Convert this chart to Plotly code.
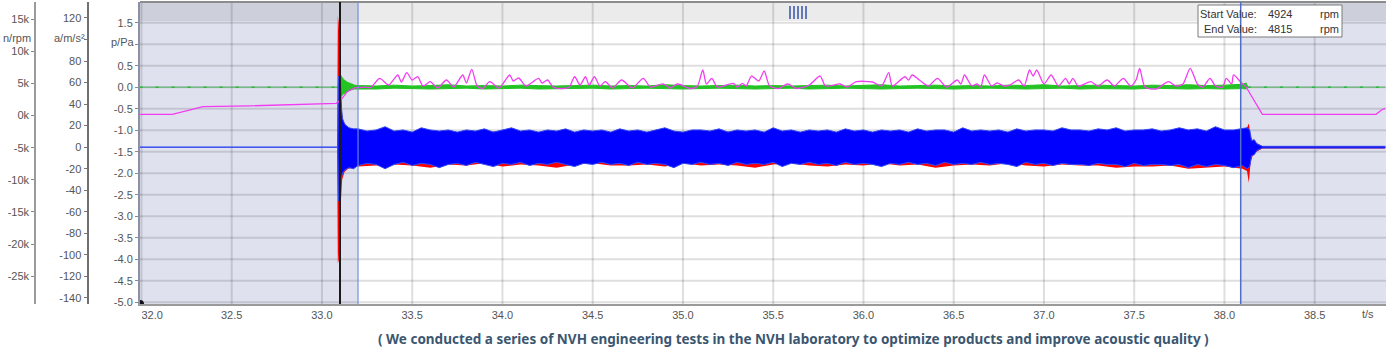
import numpy as np
import plotly.graph_objects as go

# ---------------- axis ticks ----------------
t_ticks = [32.0, 32.5, 33.0, 33.5, 34.0, 34.5, 35.0, 35.5, 36.0, 36.5, 37.0, 37.5, 38.0, 38.5]
p_ticks = [-5.0, -4.5, -4.0, -3.5, -3.0, -2.5, -2.0, -1.5, -1.0, -0.5, 0.0, 0.5, 1.0, 1.5]
p_hidden = [1.0]            # label covered by the axis title
acc_ticks = [-140, -120, -100, -80, -60, -40, -20, 0, 20, 40, 60, 80, 100, 120]
acc_hidden = [100]          # label covered by the axis title
rpm_ticks = [-25000, -20000, -15000, -10000, -5000, 0, 5000, 10000, 15000]
rpm_labels = ["-25k", "-20k", "-15k", "-10k", "-5k", "0k", "5k", "10k", "15k"]

# ---------------- time markers ----------------
cursor_t = 33.10
sel_start_t = 33.20
sel_end_t = 38.09
start_value_rpm = 4924
end_value_rpm = 4815

# ---------------- speed (magenta, n/rpm) ----------------
rpm_t = [31.99, 32.17, 32.26, 32.34, 32.60, 32.88, 33.08, 33.11, 33.14, 33.18, 33.24, 33.27,
         33.32, 33.37, 33.42, 33.44, 33.47, 33.50, 33.53, 33.56, 33.60, 33.64, 33.69, 33.73,
         33.78, 33.80, 33.83, 33.86, 33.89, 33.93, 33.98, 34.04, 34.06, 34.09, 34.13, 34.20,
         34.22, 34.25, 34.28, 34.33, 34.37, 34.40, 34.43, 34.46, 34.48, 34.51, 34.54, 34.57,
         34.61, 34.66, 34.72, 34.78, 34.82, 34.89, 34.93, 34.97, 35.04, 35.08, 35.11, 35.13,
         35.16, 35.19, 35.28, 35.30, 35.33, 35.35, 35.38, 35.42, 35.45, 35.48, 35.53, 35.58,
         35.63, 35.70, 35.76, 35.79, 35.87, 35.91, 35.96, 36.05, 36.10, 36.14, 36.16, 36.23,
         36.25, 36.27, 36.31, 36.36, 36.41, 36.46, 36.52, 36.54, 36.56, 36.60, 36.63, 36.65,
         36.67, 36.71, 36.74, 36.78, 36.81, 36.86, 36.89, 36.92, 36.94, 36.96, 37.00, 37.04,
         37.08, 37.12, 37.14, 37.16, 37.19, 37.26, 37.30, 37.35, 37.39, 37.44, 37.48, 37.51,
         37.53, 37.56, 37.62, 37.69, 37.73, 37.77, 37.81, 37.85, 37.88, 37.92, 37.95, 37.99,
         38.01, 38.04, 38.05, 38.09, 38.12, 38.21, 38.84, 38.87, 38.89]
rpm_v = [190, 190, 800, 1370, 1500, 1750, 1900, 2600, 3700, 4300, 4400, 4350,
         5785, 4740, 6300, 5210, 6655, 5520, 6030, 4590, 5255, 4275, 5520, 4430,
         6300, 5055, 7185, 4590, 4200, 5255, 4275, 6300, 5365, 5830, 4590, 5785,
         5055, 5520, 4430, 4200, 4430, 6030, 4740, 6030, 4740, 6030, 4590, 5255,
         4275, 5520, 4275, 5785, 4430, 4900, 4275, 4900, 4200, 4590, 7075, 4900,
         5785, 4430, 5005, 4430, 5005, 4590, 6140, 5365, 6920, 4590, 4200, 4900,
         4200, 4740, 6140, 4590, 4900, 4430, 5255, 5210, 4590, 6655, 4590, 6030,
         5520, 6300, 5520, 4590, 5785, 4430, 5520, 4900, 6300, 4590, 4900, 4430,
         6300, 4590, 5055, 4590, 4740, 5520, 4590, 7075, 6140, 7075, 4900, 6300,
         4590, 5785, 4900, 5785, 4590, 5255, 4590, 5520, 4590, 5785, 4590, 5520,
         7340, 4430, 4120, 5255, 4590, 4900, 7340, 4900, 4430, 5785, 4590, 4430,
         5785, 4900, 6300, 5210, 4430, 190, 190, 855, 1120]
rpm_run_from, rpm_run_to = 33.24, 38.12   # running section (smooth curve)

# ---------------- acceleration envelopes (a/m/s^2) ----------------
acc_pre_t = [31.99, 33.086]
acc_pre_v = [0, 0]
blue_spike_t = [33.088, 33.092, 33.098, 33.105, 33.114, 33.128, 33.150, 33.175]
blue_spike_hi = [0, 66, 55, 36, 26, 21, 18, 17]
blue_spike_lo = [0, -50, -42, -30, -24, -21, -19, -20]
red_spike_t = [33.084, 33.088, 33.093, 33.099, 33.105, 33.112, 33.125, 33.145, 33.170]
red_spike_hi = [0, 122, 115, 90, 50, 30, 21, 17, 16]
red_spike_lo = [0, -108, -105, -85, -50, -30, -23, -20, -19]
# running part, blue sampled every 0.05 s from 33.20 s
blue_band_t0, blue_band_dt = 33.20, 0.05
blue_hi = [17, 15, 16, 19, 15, 16, 14, 18, 16, 15,
           16, 14, 16, 15, 17, 14, 16, 18, 15, 16,
           14, 16, 15, 17, 14, 16, 15, 16, 14, 17,
           15, 16, 14, 16, 18, 15, 14, 16, 16, 15,
           17, 14, 16, 15, 16, 14, 18, 15, 16, 14,
           16, 15, 16, 14, 17, 15, 16, 14, 16, 15,
           16, 14, 17, 15, 16, 16, 14, 18, 15, 16,
           15, 16, 14, 17, 15, 16, 16, 15, 18, 16,
           16, 15, 17, 16, 18, 15, 16, 16, 17, 15,
           16, 18, 16, 17, 15, 19, 16, 16, 17]
blue_lo = [-17, -15, -16, -20, -16, -14, -17, -15, -16, -19,
           -16, -15, -17, -14, -16, -18, -15, -16, -14, -17,
           -15, -16, -14, -16, -18, -15, -16, -14, -16, -15,
           -17, -14, -16, -15, -16, -19, -15, -16, -14, -16,
           -15, -17, -14, -16, -15, -16, -14, -18, -15, -16,
           -14, -16, -15, -17, -14, -16, -15, -16, -18, -15,
           -16, -14, -16, -15, -17, -14, -16, -15, -16, -14,
           -16, -15, -16, -18, -14, -16, -15, -17, -15, -16,
           -16, -17, -15, -16, -16, -18, -15, -17, -16, -16,
           -17, -16, -19, -16, -18, -16, -17, -19, -17]
# running part, red sampled every 0.1 s from 33.20 s
red_band_t0, red_band_dt = 33.20, 0.10
red_hi = [15, 14, 14, 13, 14, 14, 13, 14, 15, 14,
          13, 14, 14, 13, 14, 14, 13, 14, 14, 13,
          14, 15, 13, 14, 14, 13, 14, 14, 14, 13,
          14, 14, 13, 14, 15, 14, 13, 14, 14, 13,
          14, 14, 15, 14, 14, 13, 15, 14, 14, 16]
red_lo = [-18, -17, -16, -17, -19, -16, -17, -15, -18, -16,
          -17, -19, -16, -15, -17, -17, -16, -18, -15, -17,
          -16, -17, -19, -16, -15, -17, -18, -16, -17, -15,
          -17, -16, -19, -17, -16, -17, -15, -17, -18, -16,
          -17, -17, -19, -18, -18, -17, -20, -19, -18, -20]
blue_tail_t = [38.125, 38.140, 38.150, 38.165, 38.180, 38.210, 38.890]
blue_tail_hi = [18, 16, 6, 7, 3, 0.8, 0.8]
blue_tail_lo = [-20, -18, -8, -7, -3, -0.8, -0.8]
red_tail_t = [38.125, 38.135, 38.145, 38.160, 38.190, 38.210, 38.890]
red_tail_hi = [18, 22, 10, 5, 3, 0.8, 0.8]
red_tail_lo = [-22, -33, -14, -6, -3, -1.2, -1.2]

# ---------------- sound pressure envelope (green, p/Pa) ----------------
green_pre_t = [31.99, 33.09]
green_pre_v = [0.0, 0.0]
green_spike_t = [33.090, 33.095, 33.100, 33.108, 33.120, 33.140, 33.160, 33.180]
green_spike_hi = [0, 0.33, 0.30, 0.25, 0.18, 0.12, 0.08, 0.05]
green_spike_lo = [0, -0.25, -0.24, -0.20, -0.15, -0.10, -0.06, -0.04]
green_band_t0, green_band_dt = 33.20, 0.10
green_hi = [0.04, 0.03, 0.05, 0.03, 0.04, 0.06, 0.03, 0.04, 0.03, 0.05,
            0.04, 0.03, 0.04, 0.05, 0.03, 0.04, 0.03, 0.06, 0.04, 0.03,
            0.04, 0.05, 0.03, 0.04, 0.03, 0.04, 0.05, 0.03, 0.04, 0.06,
            0.03, 0.04, 0.05, 0.03, 0.04, 0.03, 0.05, 0.04, 0.06, 0.03,
            0.04, 0.05, 0.04, 0.03, 0.05, 0.04, 0.06, 0.04, 0.05, 0.07]
green_lo = [-0.03, -0.04, -0.02, -0.03, -0.04, -0.03, -0.02, -0.04, -0.03, -0.02,
            -0.04, -0.03, -0.03, -0.02, -0.04, -0.03, -0.02, -0.03, -0.04, -0.03,
            -0.02, -0.03, -0.04, -0.03, -0.02, -0.04, -0.03, -0.02, -0.03, -0.04,
            -0.03, -0.02, -0.03, -0.04, -0.03, -0.02, -0.03, -0.04, -0.03, -0.02,
            -0.04, -0.03, -0.03, -0.04, -0.02, -0.03, -0.04, -0.03, -0.04, -0.03]
green_tail_t = [38.12, 38.13]
green_tail_hi = [0.10, 0.0]
green_tail_lo = [-0.04, 0.0]
green_post_t = [38.13, 38.89]
green_post_v = [0.0, 0.0]

caption = ("( We conducted a series of NVH engineering tests in the NVH laboratory "
           "to optimize products and improve acoustic quality )")

# ---------------- helpers ----------------
def grid(t0, dt, n):
    return list(np.round(t0 + dt * np.arange(n), 3))


def polygon(t, hi, lo):
    return list(t) + list(t)[::-1], list(hi) + list(lo)[::-1]


blue_t = acc_pre_t + blue_spike_t + grid(blue_band_t0, blue_band_dt, len(blue_hi)) + blue_tail_t
blue_up = acc_pre_v + blue_spike_hi + blue_hi + blue_tail_hi
blue_dn = acc_pre_v + blue_spike_lo + blue_lo + blue_tail_lo
red_t = acc_pre_t + red_spike_t + grid(red_band_t0, red_band_dt, len(red_hi)) + red_tail_t
red_up = acc_pre_v + red_spike_hi + red_hi + red_tail_hi
red_dn = acc_pre_v + red_spike_lo + red_lo + red_tail_lo
green_t = green_spike_t + grid(green_band_t0, green_band_dt, len(green_hi)) + green_tail_t
green_up = green_spike_hi + green_hi + green_tail_hi
green_dn = green_spike_lo + green_lo + green_tail_lo

fig = go.Figure()

rx, ry = polygon(red_t, red_up, red_dn)
fig.add_trace(go.Scatter(x=rx, y=ry, yaxis="y2", mode="lines", fill="toself",
                         fillcolor="#ff0000", line=dict(color="#ff0000", width=0),
                         hoverinfo="skip"))
bx, by = polygon(blue_t, blue_up, blue_dn)
fig.add_trace(go.Scatter(x=bx, y=by, yaxis="y2", mode="lines", fill="toself",
                         fillcolor="#0000ff", line=dict(color="#3348f0", width=1),
                         hoverinfo="skip"))

# magenta speed: straight segments outside the run, smooth curve during the run
i0 = rpm_t.index(rpm_run_from)
i1 = rpm_t.index(rpm_run_to)
mag = "#f23cf2"
fig.add_trace(go.Scatter(x=rpm_t[:i0 + 1], y=rpm_v[:i0 + 1], yaxis="y3", mode="lines",
                         line=dict(color=mag, width=1.3), hoverinfo="skip"))
fig.add_trace(go.Scatter(x=rpm_t[i0:i1 + 1], y=rpm_v[i0:i1 + 1], yaxis="y3", mode="lines",
                         line=dict(color=mag, width=1.3, shape="spline", smoothing=0.7),
                         hoverinfo="skip"))
fig.add_trace(go.Scatter(x=rpm_t[i1:], y=rpm_v[i1:], yaxis="y3", mode="lines",
                         line=dict(color=mag, width=1.3), hoverinfo="skip"))

for tt, vv in ((green_pre_t, green_pre_v), (green_post_t, green_post_v)):
    fig.add_trace(go.Scatter(x=tt, y=vv, mode="lines",
                             line=dict(color="rgba(40,175,60,0.5)", width=1.5),
                             hoverinfo="skip"))
    fig.add_trace(go.Scatter(x=tt, y=vv, mode="lines",
                             line=dict(color="#2fb83f", width=1.5, dash="3px,13px"),
                             hoverinfo="skip"))
gx, gy = polygon(green_t, green_up, green_dn)
fig.add_trace(go.Scatter(x=gx, y=gy, mode="lines", fill="toself",
                         fillcolor="#22c322", line=dict(color="#22c322", width=1),
                         hoverinfo="skip"))

# ---------------- layout ----------------
W, H = 1386, 359
ML, MT, MB = 140, 2, 55
plot_h = H - MT - MB
x_left = ML / W
X0, X1 = 31.992, 38.895
P0, P1 = -5.04, 1.984

tick_font = dict(family="Liberation Sans, Arial", size=11, color="#555555")
x_ticktext = [f"{v:.1f}" for v in t_ticks]
x_ticktext[0] = "\u00a0" * 7 + x_ticktext[0]   # first label is nudged inside the frame

fig.update_layout(
    width=W, height=H, template="none",
    margin=dict(l=0, r=0, t=MT, b=MB, pad=0),
    plot_bgcolor="white", paper_bgcolor="white", showlegend=False,
    font=dict(family="Liberation Sans, Arial", size=11, color="#555555"),
    xaxis=dict(domain=[x_left, 1], range=[X0, X1],
               tickvals=t_ticks, ticktext=x_ticktext,
               tickfont=tick_font, ticks="", showgrid=False, zeroline=False,
               showline=True, linecolor="#9a9a9a", linewidth=2, automargin=False),
    yaxis=dict(range=[P0, P1], tickvals=p_ticks,
               ticktext=["" if v in p_hidden else f"{v:.1f}" for v in p_ticks],
               tickfont=tick_font, ticks="outside", ticklen=3, tickcolor="#8a8a8a",
               showgrid=False, zeroline=False,
               showline=True, linecolor="#8d91a8", linewidth=2, automargin=False),
    yaxis2=dict(overlaying="y", anchor="free", position=87.5 / W, side="left",
                range=[-145.6, 134.8], tickvals=acc_ticks,
                ticktext=["" if v in acc_hidden else str(v) for v in acc_ticks],
                tickfont=tick_font, ticks="outside", ticklen=3, tickcolor="#777777",
                showgrid=False, zeroline=False, showline=True, linecolor="#707070",
                linewidth=2, automargin=False),
    yaxis3=dict(overlaying="y", anchor="free", position=35 / W, side="left",
                range=[-29316, 17652], tickvals=rpm_ticks, ticktext=rpm_labels,
                tickfont=tick_font, ticks="outside", ticklen=3, tickcolor="#8a8a8a",
                showgrid=False, zeroline=False, showline=True, linecolor="#9a9a9a",
                linewidth=1.5, automargin=False),
)


def py(pix):
    """pixel row -> paper y"""
    return (H - MB - pix) / plot_h


shade = "rgba(40,60,140,0.15)"
gridc = "rgba(0,0,0,0.13)"
shapes = [
    dict(type="rect", xref="x", yref="y domain", x0=X0, x1=sel_start_t, y0=0, y1=1,
         fillcolor=shade, line=dict(width=0), layer="below"),
    dict(type="rect", xref="x", yref="y domain", x0=sel_end_t, x1=X1, y0=0, y1=1,
         fillcolor=shade, line=dict(width=0), layer="below"),
    dict(type="rect", xref="x domain", yref="y domain", x0=0, x1=1, y0=py(21), y1=1,
         fillcolor="rgba(0,0,0,0.08)", line=dict(width=0), layer="below"),
]
for tv in t_ticks:
    shapes.append(dict(type="line", xref="x", yref="y domain", x0=tv, x1=tv, y0=0, y1=1,
                       line=dict(color=gridc, width=2), layer="below"))
for pv in p_ticks:
    shapes.append(dict(type="line", xref="x domain", yref="y", x0=0, x1=1, y0=pv, y1=pv,
                       line=dict(color=gridc, width=2), layer="below"))
shapes += [
    dict(type="line", xref="x domain", yref="y domain", x0=0, x1=1, y0=1, y1=1,
         line=dict(color="#8c8c8c", width=2)),
    dict(type="line", xref="x", yref="y domain", x0=sel_start_t, x1=sel_start_t, y0=0, y1=1,
         line=dict(color="rgba(110,140,215,0.75)", width=1.5)),
    dict(type="rect", xref="paper", yref="paper", x0=1198 / W, x1=1342 / W,
         y0=py(37), y1=py(5), fillcolor="white", line=dict(color="#7a7a7a", width=1)),
    dict(type="line", xref="x", yref="y domain", x0=sel_end_t, x1=sel_end_t, y0=0, y1=1,
         line=dict(color="#4f6fc6", width=1.5)),
    dict(type="line", xref="x", yref="y domain", x0=cursor_t, x1=cursor_t, y0=0, y1=1,
         line=dict(color="#1a1a1a", width=2)),
    dict(type="circle", xref="x", yref="y", xsizemode="pixel", ysizemode="pixel",
         xanchor=X0, yanchor=P0, x0=-4, x1=4, y0=-4, y1=4,
         fillcolor="#101018", line=dict(width=0)),
]
for px in (790, 794, 798, 802, 806):
    xd = (px - ML) / (W - ML)
    shapes.append(dict(type="line", xref="x domain", yref="y domain", x0=xd, x1=xd,
                       y0=py(19), y1=py(6), line=dict(color="#6278bd", width=2)))
fig.update_layout(shapes=shapes)

box_font = dict(family="Liberation Sans, Arial", size=11, color="#333333")
ann = [
    dict(text="n/rpm", x=33 / W, y=py(38), xanchor="right"),
    dict(text="a/m/s²", x=87 / W, y=py(38), xanchor="right"),
    dict(text="p/Pa", x=137 / W, y=py(42), xanchor="right"),
    dict(text="t/s", x=1368 / W, y=py(314), xanchor="center"),
]
annotations = [dict(xref="paper", yref="paper", showarrow=False, yanchor="middle",
                    font=tick_font, **a) for a in ann]
for row_y, lab, val in ((14, "Start Value:", start_value_rpm), (29, "End Value:", end_value_rpm)):
    annotations += [
        dict(xref="paper", yref="paper", showarrow=False, x=1259 / W, y=py(row_y),
             xanchor="right", yanchor="middle", text=lab, font=box_font),
        dict(xref="paper", yref="paper", showarrow=False, x=1266 / W, y=py(row_y),
             xanchor="left", yanchor="middle", text=str(val), font=box_font),
        dict(xref="paper", yref="paper", showarrow=False, x=1318 / W, y=py(row_y),
             xanchor="left", yanchor="middle", text="rpm", font=box_font),
    ]
annotations.append(dict(xref="paper", yref="paper", showarrow=False, x=793 / W, y=py(339),
                        xanchor="center", yanchor="middle",
                        text=f"<b>{caption}</b>",
                        font=dict(family="Noto Sans, Liberation Sans", size=13.5,
                                  color="#3b5670")))
fig.update_layout(annotations=annotations)

fig.write_html("out.html", config={"displayModeBar": False},
               post_script="document.body.style.margin='0px';"
                           "document.body.style.overflow='hidden';")
